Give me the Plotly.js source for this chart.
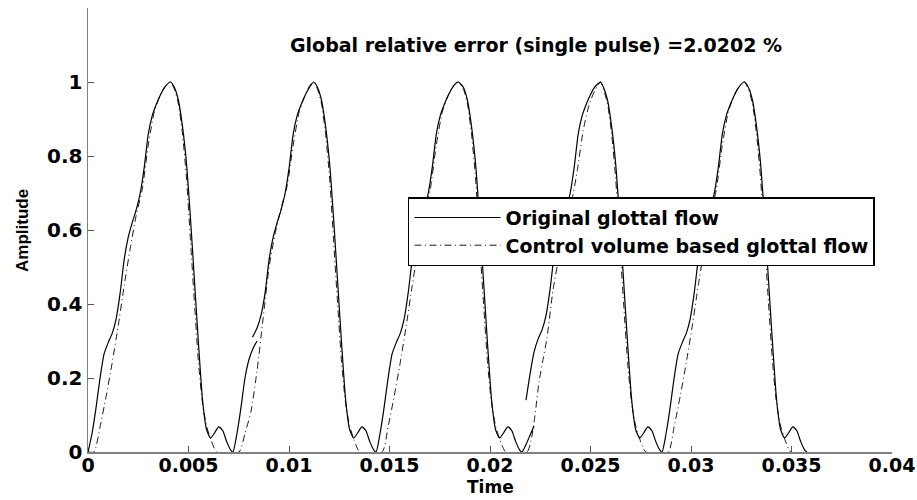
<!DOCTYPE html>
<html>
<head>
<meta charset="utf-8">
<script src="https://cdn.plot.ly/plotly-3.0.1.min.js"></script>
<style>html,body{margin:0;padding:0;background:#fff;}#chart{width:917px;height:500px;}</style>
</head>
<body>
<div id="chart"></div>
<script>
// ---- Original glottal flow (solid), read per pulse ----
var origT1 = [0, 0.0002, 0.0004, 0.0006, 0.0008, 0.0010, 0.0012, 0.0014, 0.0016, 0.0018, 0.0020, 0.0022, 0.0024, 0.0026, 0.0028, 0.0030, 0.0032, 0.0034, 0.0036, 0.0038, 0.0041, 0.0043, 0.0045, 0.0047, 0.0049, 0.0051, 0.0053, 0.0055, 0.0057, 0.0059, 0.0061, 0.0063, 0.0065, 0.0067, 0.0069, 0.0071];
var origY1 = [0, 0.05, 0.12, 0.20, 0.265, 0.295, 0.32, 0.36, 0.43, 0.52, 0.58, 0.62, 0.655, 0.70, 0.77, 0.86, 0.91, 0.94, 0.965, 0.985, 1.0, 0.985, 0.95, 0.88, 0.78, 0.63, 0.46, 0.29, 0.14, 0.06, 0.038, 0.052, 0.068, 0.058, 0.028, 0.005];

var origT2a = [0.00721, 0.00741, 0.00761, 0.00781, 0.00801, 0.00821, 0.00841];
var origY2a = [0, 0.05, 0.12, 0.20, 0.25, 0.28, 0.30];
var origT2b = [0.00818, 0.00841, 0.00861, 0.00881, 0.00901, 0.00921, 0.00941, 0.00961, 0.00981, 0.01001, 0.01021, 0.01041, 0.01061, 0.01081, 0.01101, 0.01124, 0.01142, 0.01162, 0.01182, 0.01202, 0.01222, 0.01242, 0.01262, 0.01282, 0.01302, 0.01322, 0.01342, 0.01362, 0.01382, 0.01402, 0.01422];
var origY2b = [0.31, 0.335, 0.37, 0.43, 0.52, 0.58, 0.62, 0.655, 0.70, 0.77, 0.86, 0.91, 0.94, 0.965, 0.985, 1.0, 0.985, 0.95, 0.88, 0.78, 0.63, 0.46, 0.29, 0.14, 0.06, 0.038, 0.052, 0.068, 0.058, 0.028, 0.005];

var origT3 = [0.01433, 0.01453, 0.01473, 0.01493, 0.01513, 0.01533, 0.01553, 0.01573, 0.01593, 0.01613, 0.01633, 0.01653, 0.01673, 0.01693, 0.01713, 0.01733, 0.01753, 0.01773, 0.01793, 0.01813, 0.01841, 0.01868, 0.01888, 0.01908, 0.01928, 0.01948, 0.01968, 0.01988, 0.02008, 0.02028, 0.02048, 0.02068, 0.02088, 0.02108, 0.02128, 0.02148];
var origY3 = [0, 0.05, 0.12, 0.20, 0.265, 0.295, 0.32, 0.36, 0.43, 0.52, 0.58, 0.62, 0.655, 0.70, 0.77, 0.86, 0.91, 0.94, 0.965, 0.985, 1.0, 0.985, 0.95, 0.88, 0.78, 0.63, 0.46, 0.29, 0.14, 0.06, 0.038, 0.052, 0.068, 0.058, 0.028, 0.005];

var origT4a = [0.02159, 0.02179, 0.02199, 0.02219];
var origY4a = [0, 0.02, 0.045, 0.07];
var origT4b = [0.02179, 0.02199, 0.02219, 0.02239, 0.02259, 0.02279, 0.02299, 0.02319, 0.02339, 0.02359, 0.02379, 0.02399, 0.02419, 0.02439, 0.02459, 0.02479, 0.02499, 0.02519, 0.0255, 0.02565, 0.02585, 0.02605, 0.02625, 0.02645, 0.02665, 0.02685, 0.02705, 0.02725, 0.02745, 0.02765, 0.02785, 0.02805, 0.02825, 0.02845];
var origY4b = [0.14, 0.21, 0.27, 0.305, 0.33, 0.37, 0.44, 0.53, 0.58, 0.62, 0.655, 0.70, 0.77, 0.86, 0.91, 0.94, 0.965, 0.985, 1.0, 0.985, 0.95, 0.88, 0.78, 0.63, 0.46, 0.29, 0.14, 0.06, 0.038, 0.052, 0.068, 0.058, 0.028, 0.005];

var origT5 = [0.02856, 0.02876, 0.02896, 0.02916, 0.02936, 0.02956, 0.02976, 0.02996, 0.03016, 0.03036, 0.03056, 0.03076, 0.03096, 0.03116, 0.03136, 0.03156, 0.03176, 0.03196, 0.03216, 0.03236, 0.03266, 0.03286, 0.03306, 0.03326, 0.03346, 0.03366, 0.03386, 0.03406, 0.03426, 0.03446, 0.03466, 0.03486, 0.03506, 0.03526, 0.03546, 0.03566, 0.03577];
var origY5 = [0, 0.05, 0.12, 0.20, 0.265, 0.295, 0.32, 0.36, 0.43, 0.52, 0.58, 0.62, 0.655, 0.70, 0.77, 0.86, 0.91, 0.94, 0.965, 0.985, 1.0, 0.985, 0.95, 0.88, 0.78, 0.63, 0.46, 0.29, 0.14, 0.06, 0.038, 0.052, 0.068, 0.058, 0.028, 0.005, 0];

// ---- Control volume based glottal flow (dash-dot), read per pulse ----
var ctrlT1 = [0, 0.0003, 0.0006, 0.0009, 0.0012, 0.0015, 0.0018, 0.0021, 0.0024, 0.0027, 0.0030, 0.0033, 0.0036, 0.0039, 0.0041, 0.0043, 0.0045, 0.0047, 0.0049, 0.0051, 0.0053, 0.0055, 0.0057, 0.0059, 0.0061, 0.0063, 0.0064];
var ctrlY1 = [0, 0, 0.068, 0.15, 0.24, 0.34, 0.45, 0.55, 0.64, 0.71, 0.83, 0.92, 0.965, 0.992, 1.0, 0.98, 0.94, 0.86, 0.74, 0.57, 0.40, 0.24, 0.13, 0.07, 0.035, 0.008, 0];

var ctrlT2 = [0.00751, 0.00781, 0.00811, 0.00841, 0.00871, 0.00901, 0.00931, 0.00961, 0.00991, 0.01021, 0.01051, 0.01081, 0.01105, 0.01124, 0.01142, 0.01162, 0.01182, 0.01202, 0.01222, 0.01242, 0.01262, 0.01282, 0.01302, 0.01322, 0.01342, 0.01352];
var ctrlY2 = [0, 0.05, 0.11, 0.22, 0.36, 0.50, 0.59, 0.66, 0.72, 0.83, 0.92, 0.965, 0.992, 1.0, 0.98, 0.94, 0.86, 0.74, 0.57, 0.40, 0.24, 0.13, 0.07, 0.035, 0.008, 0];

var ctrlT3 = [0.01463, 0.01493, 0.01523, 0.01553, 0.01583, 0.01613, 0.01643, 0.01673, 0.01703, 0.01733, 0.01763, 0.01793, 0.01820, 0.01841, 0.01868, 0.01888, 0.01908, 0.01928, 0.01948, 0.01968, 0.01988, 0.02008, 0.02028, 0.02048, 0.02068, 0.02078];
var ctrlY3 = [0, 0.068, 0.15, 0.24, 0.34, 0.45, 0.55, 0.64, 0.71, 0.83, 0.92, 0.965, 0.992, 1.0, 0.98, 0.94, 0.86, 0.74, 0.57, 0.40, 0.24, 0.13, 0.07, 0.035, 0.008, 0];

var ctrlT4 = [0.02184, 0.02204, 0.02224, 0.02244, 0.02264, 0.02284, 0.02314, 0.02344, 0.02374, 0.02404, 0.02434, 0.02464, 0.02494, 0.02524, 0.0255, 0.02565, 0.02585, 0.02605, 0.02625, 0.02645, 0.02665, 0.02685, 0.02705, 0.02725, 0.02745, 0.02765, 0.02775];
var ctrlY4 = [0, 0.03, 0.10, 0.19, 0.25, 0.31, 0.44, 0.53, 0.61, 0.67, 0.76, 0.87, 0.94, 0.98, 1.0, 0.98, 0.94, 0.86, 0.74, 0.57, 0.40, 0.24, 0.13, 0.07, 0.035, 0.008, 0];

var ctrlT5 = [0.02886, 0.02916, 0.02946, 0.02976, 0.03006, 0.03036, 0.03066, 0.03096, 0.03126, 0.03156, 0.03186, 0.03216, 0.03245, 0.03266, 0.03286, 0.03306, 0.03326, 0.03346, 0.03366, 0.03386, 0.03406, 0.03426, 0.03446, 0.03466, 0.03486, 0.03496];
var ctrlY5 = [0, 0.068, 0.15, 0.24, 0.34, 0.45, 0.55, 0.64, 0.71, 0.83, 0.92, 0.965, 0.992, 1.0, 0.98, 0.94, 0.86, 0.74, 0.57, 0.40, 0.24, 0.13, 0.07, 0.035, 0.008, 0];

// ---- Axis ticks and texts ----
var xTickVals = [0, 0.005, 0.01, 0.015, 0.02, 0.025, 0.03, 0.035, 0.04];
var xTickText = ['0', '0.005', '0.01', '0.015', '0.02', '0.025', '0.03', '0.035', '0.04'];
var yTickVals = [0, 0.2, 0.4, 0.6, 0.8, 1];
var yTickText = ['0', '0.2', '0.4', '0.6', '0.8', '1'];
var seriesNames = ['Original glottal flow', 'Control volume based glottal flow'];
var xTitle = 'Time';
var yTitle = 'Amplitude';
var noteText = 'Global relative error (single pulse) =2.0202 %';
var noteX = 0.0223, noteY = 1.1;

var origX = [].concat(origT1, origT2a, [null], origT2b, origT3, origT4a, [null], origT4b, origT5);
var origY = [].concat(origY1, origY2a, [null], origY2b, origY3, origY4a, [null], origY4b, origY5);
var ctrlX = [].concat(ctrlT1, ctrlT2, ctrlT3, ctrlT4, ctrlT5);
var ctrlY = [].concat(ctrlY1, ctrlY2, ctrlY3, ctrlY4, ctrlY5);

var FONT = 'DejaVu Sans, Liberation Sans, Arial, sans-serif';

var traces = [
  {x: origX, y: origY, type: 'scatter', mode: 'lines', name: seriesNames[0],
   connectgaps: false, line: {color: '#000', width: 1.2, shape: 'spline', smoothing: 0.6}},
  {x: ctrlX, y: ctrlY, type: 'scatter', mode: 'lines', name: seriesNames[1],
   line: {color: '#000', width: 0.9, dash: '7px,3.5px,1px,3.5px', shape: 'spline', smoothing: 0.6}}
];

var layout = {
  width: 917, height: 500,
  margin: {l: 88, r: 25, t: 8, b: 48},
  paper_bgcolor: '#fff', plot_bgcolor: '#fff',
  showlegend: true,
  legend: {x: 0.398, y: 0.574, xanchor: 'left', yanchor: 'top',
    bgcolor: '#fff', bordercolor: '#000', borderwidth: 1.5,
    font: {family: FONT, size: 19, color: '#000', weight: 'bold'},
    itemwidth: 86, tracegroupgap: 0},
  xaxis: {range: [0, 0.04], tickvals: xTickVals, ticktext: xTickText,
    showline: true, linecolor: '#808080', linewidth: 1.5, mirror: false,
    ticks: 'inside', ticklen: 6, tickcolor: '#555', tickwidth: 1,
    ticklabelstandoff: -4,
    showgrid: false, zeroline: false,
    tickfont: {family: FONT, size: 19, color: '#000', weight: 'bold'}},
  yaxis: {range: [0, 1.2], tickvals: yTickVals, ticktext: yTickText,
    showline: true, linecolor: '#808080', linewidth: 1.5, mirror: false,
    ticks: 'inside', ticklen: 6, tickcolor: '#555', tickwidth: 1,
    ticklabelstandoff: 0,
    showgrid: false, zeroline: false,
    tickfont: {family: FONT, size: 20, color: '#000', weight: 'bold'}},
  annotations: [
    {x: noteX, y: noteY, xref: 'x', yref: 'y', text: noteText, showarrow: false,
     font: {family: FONT, size: 19, color: '#000', weight: 'bold'}},
    {x: 0.5, y: -0.1059, xref: 'paper', yref: 'paper', xanchor: 'center', yanchor: 'bottom',
     text: xTitle, showarrow: false,
     font: {family: FONT, size: 17, color: '#000', weight: 'bold'}},
    {x: -0.0821, y: 0.5, xref: 'paper', yref: 'paper', xanchor: 'center', yanchor: 'middle',
     text: yTitle, textangle: -90, showarrow: false,
     font: {family: 'Liberation Sans Narrow, Liberation Sans, Arial, sans-serif', size: 17, color: '#000', weight: 'bold'}}
  ]
};

Plotly.newPlot('chart', traces, layout, {displayModeBar: false, staticPlot: true});
</script>
</body>
</html>
